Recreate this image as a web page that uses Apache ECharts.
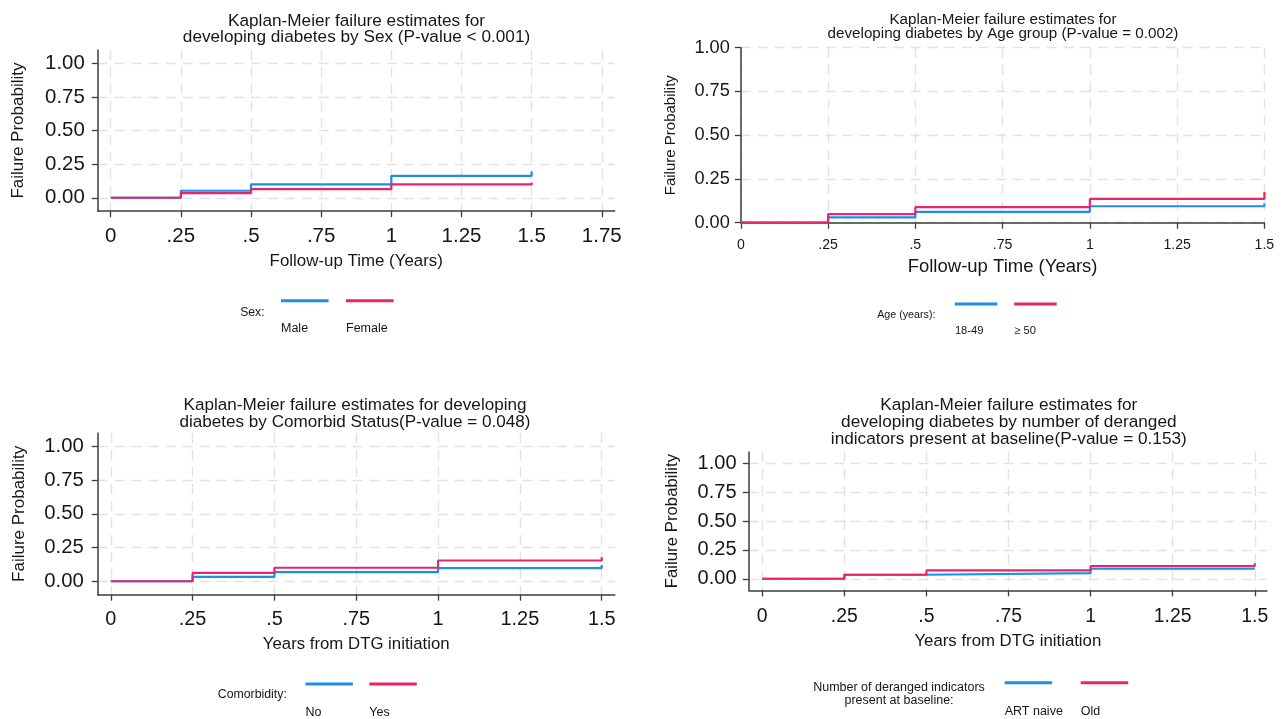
<!DOCTYPE html>
<html>
<head>
<meta charset="utf-8">
<script src="https://cdn.jsdelivr.net/npm/echarts@6/dist/echarts.min.js"></script>
<style>
html,body{margin:0;padding:0;background:#ffffff;}
#chart{width:1284px;height:719px;}
</style>
</head>
<body>
<div id="chart"></div>
<script>
// ---------------- DATA ----------------
const followUpYears = [0, 0.25, 0.5, 1, 1.5];
const sexMale = [0, 0.052, 0.100, 0.163, 0.195];
const sexFemale = [0, 0.035, 0.064, 0.099, 0.113];
const age18to49 = [0, 0.030, 0.062, 0.094, 0.110];
const age50plus = [0, 0.049, 0.089, 0.136, 0.176];
const comorbNo = [0, 0.032, 0.067, 0.097, 0.121];
const comorbYes = [0, 0.062, 0.100, 0.154, 0.178];
const derangedArtNaive = [0, 0.035, 0.049, 0.087, 0.092];
const derangedOld = [0, 0.035, 0.072, 0.110, 0.135];

const xTickValuesSex = [0, 0.25, 0.5, 0.75, 1, 1.25, 1.5, 1.75];
const xTickValues = [0, 0.25, 0.5, 0.75, 1, 1.25, 1.5];
const yTickValues = [0, 0.25, 0.5, 0.75, 1];

const panelTitles = [
  'Kaplan-Meier failure estimates for\ndeveloping diabetes by Sex (P-value < 0.001)',
  'Kaplan-Meier failure estimates for\ndeveloping diabetes by Age group (P-value = 0.002)',
  'Kaplan-Meier failure estimates for developing\ndiabetes by Comorbid Status(P-value = 0.048)',
  'Kaplan-Meier failure estimates for\ndeveloping diabetes by number of deranged\nindicators present at baseline(P-value = 0.153)'
];
const xAxisNames = ['Follow-up Time (Years)', 'Follow-up Time (Years)', 'Years from DTG initiation', 'Years from DTG initiation'];
const yAxisName = 'Failure Probability';
const legendTitles = ['Sex:', 'Age (years):', 'Comorbidity:', 'Number of deranged indicators\npresent at baseline:'];
const groupNames = [['Male', 'Female'], ['18-49', '\u2265 50'], ['No', 'Yes'], ['ART naive', 'Old']];
const groupValues = [[sexMale, sexFemale], [age18to49, age50plus], [comorbNo, comorbYes], [derangedArtNaive, derangedOld]];

// ---------------- STYLE / LAYOUT ----------------
const FONT = '"Liberation Sans", Arial, Helvetica, sans-serif';
const BLUE = '#1e8ee6';
const RED = '#e5266b';
const AXIS = '#3c3c3c';
const GRIDC = '#e2e2e2';
const TXT = '#161616';

const panels = [
  { grid: {left: 97.8, top: 49.9, width: 516.9, height: 161.3}, xMin: -0.046, xMax: 1.796, yMin: -0.1, yMax: 1.1, xCustom: xTickValuesSex,
    title: {x: 356.5, top: 13.9, fs: 17.2, lh: 15.6},
    yl: {fs: 20.4, m: 13}, xl: {fs: 20.5, m: 15}, yn: {fs: 17, gap: 71}, xn: {fs: 16.9, gap: 42},
    lt: {x: 240.2, yc: 312.3, fs: 12.2, align: 'left'},
    icons: {xs: [281, 346], y: 300.7, w: 47.6}, labels: {xs: [281, 346], yc: 328.3, fs: 12.5} },
  { grid: {left: 740.8, top: 47.7, width: 523.6, height: 175}, xMin: 0, xMax: 1.5, yMin: 0, yMax: 1, xCustom: null,
    title: {x: 1003, top: 12.85, fs: 15.2, lh: 14.3},
    yl: {fs: 18.2, m: 11}, xl: {fs: 14.1, m: 15.3}, yn: {fs: 15, gap: 62.6}, xn: {fs: 18.5, gap: 35},
    lt: {x: 877.2, yc: 315, fs: 10.7, align: 'left'},
    icons: {xs: [954.9, 1014.2], y: 304, w: 42.5}, labels: {xs: [954.9, 1014.2], yc: 331, fs: 11.2} },
  { grid: {left: 97.7, top: 433.1, width: 517.1, height: 161.6}, xMin: -0.04, xMax: 1.54, yMin: -0.1, yMax: 1.1, xCustom: xTickValues,
    title: {x: 355, top: 396.35, fs: 17.1, lh: 17.3},
    yl: {fs: 20.3, m: 14}, xl: {fs: 19.9, m: 15}, yn: {fs: 17, gap: 69.7}, xn: {fs: 16.8, gap: 41.6},
    lt: {x: 217.8, yc: 695, fs: 12.3, align: 'left'},
    icons: {xs: [305.4, 369.3], y: 684, w: 47.5}, labels: {xs: [305.4, 369.3], yc: 712.7, fs: 12.5} },
  { grid: {left: 748.8, top: 451.9, width: 518.1, height: 138.4}, xMin: -0.041, xMax: 1.537, yMin: -0.1, yMax: 1.1, xCustom: xTickValues,
    title: {x: 1008.8, top: 396.5, fs: 17.2, lh: 17},
    yl: {fs: 20, m: 12.3}, xl: {fs: 19.4, m: 16.8}, yn: {fs: 16.8, gap: 68.4}, xn: {fs: 16.8, gap: 42.4},
    lt: {x: 899, yc: 694, fs: 12.5, lh: 13.4, align: 'center'},
    icons: {xs: [1004.7, 1080.7], y: 682.7, w: 47.5}, labels: {xs: [1004.7, 1080.7], yc: 711, fs: 12.5} }
];

function fmtX(v) {
  const s = String(+(+v).toFixed(2));
  return s.replace(/^0\./, '.');
}
function fmtY(v) { return (+v).toFixed(2); }

const titles = [], grids = [], xAxes = [], yAxes = [], series = [], legends = [];

panels.forEach((p, i) => {
  titles.push({
    text: panelTitles[i], left: p.title.x, top: p.title.top, textAlign: 'center', padding: 0,
    textStyle: {fontFamily: FONT, fontSize: p.title.fs, lineHeight: p.title.lh, fontWeight: 'normal', color: TXT}
  });
  const lth = p.lt.lh || p.lt.fs;
  const nLines = legendTitles[i].split('\n').length;
  titles.push({
    text: legendTitles[i], left: p.lt.x, top: p.lt.yc - nLines * lth / 2, textAlign: p.lt.align, padding: 0,
    textStyle: {fontFamily: FONT, fontSize: p.lt.fs, lineHeight: lth, fontWeight: 'normal', color: TXT}
  });
  grids.push(Object.assign({containLabel: false}, p.grid));

  const common = {
    axisLine: {show: true, onZero: false, lineStyle: {color: AXIS, width: 1.5}},
    axisTick: {show: true, inside: false, length: 6, lineStyle: {color: AXIS, width: 1.3}},
    splitLine: {show: true, lineStyle: {color: GRIDC, width: 1.4, type: [10, 7]}}
  };
  const xa = {
    type: 'value', gridIndex: i, min: p.xMin, max: p.xMax,
    name: xAxisNames[i], nameLocation: 'middle', nameGap: p.xn.gap,
    nameTextStyle: {fontFamily: FONT, fontSize: p.xn.fs, color: TXT},
    axisLine: common.axisLine,
    axisTick: Object.assign({}, common.axisTick),
    splitLine: common.splitLine,
    axisLabel: {fontFamily: FONT, fontSize: p.xl.fs, color: TXT, margin: p.xl.m, formatter: fmtX}
  };
  if (p.xCustom) {
    xa.axisTick.customValues = p.xCustom;
    xa.axisLabel.customValues = p.xCustom;
  } else {
    xa.interval = 0.25;
  }
  xAxes.push(xa);

  const ya = {
    type: 'value', gridIndex: i, min: p.yMin, max: p.yMax,
    name: yAxisName, nameLocation: 'middle', nameGap: p.yn.gap,
    nameTextStyle: {fontFamily: FONT, fontSize: p.yn.fs, color: TXT},
    axisLine: common.axisLine,
    axisTick: Object.assign({}, common.axisTick),
    splitLine: common.splitLine,
    axisLabel: {fontFamily: FONT, fontSize: p.yl.fs, color: TXT, margin: p.yl.m, formatter: fmtY}
  };
  if (p.yMin !== 0) {
    ya.axisTick.customValues = yTickValues;
    ya.axisLabel.customValues = yTickValues;
  } else {
    ya.interval = 0.25;
  }
  yAxes.push(ya);

  groupNames[i].forEach((nm, k) => {
    const color = k === 0 ? BLUE : RED;
    series.push({
      type: 'line', name: nm, xAxisIndex: i, yAxisIndex: i,
      step: 'end', showSymbol: false, symbol: 'none', animation: false,
      lineStyle: {color: color, width: 2.2}, itemStyle: {color: color},
      z: 3 + k,
      data: followUpYears.map((t, j) => [t, groupValues[i][k][j]])
    });
    legends.push({
      data: [nm], left: p.icons.xs[k], top: p.icons.y - 1.5, padding: 0,
      itemWidth: p.icons.w, itemHeight: 3, icon: 'rect', itemGap: 0, selectedMode: false,
      formatter: () => '', textStyle: {fontSize: 3, lineHeight: 3},
      itemStyle: {borderWidth: 0}
    });
    legends.push({
      data: [nm], left: p.labels.xs[k] - 5, top: p.labels.yc - p.labels.fs / 2, padding: 0,
      itemWidth: 0, itemHeight: 0, icon: 'none', itemGap: 0, selectedMode: false,
      textStyle: {fontFamily: FONT, fontSize: p.labels.fs, lineHeight: p.labels.fs, color: TXT}
    });
  });
});

const chart = echarts.init(document.getElementById('chart'), null, {renderer: 'canvas'});
chart.setOption({
  animation: false,
  backgroundColor: '#ffffff',
  title: titles,
  grid: grids,
  xAxis: xAxes,
  yAxis: yAxes,
  legend: legends,
  series: series
});
</script>
</body>
</html>
